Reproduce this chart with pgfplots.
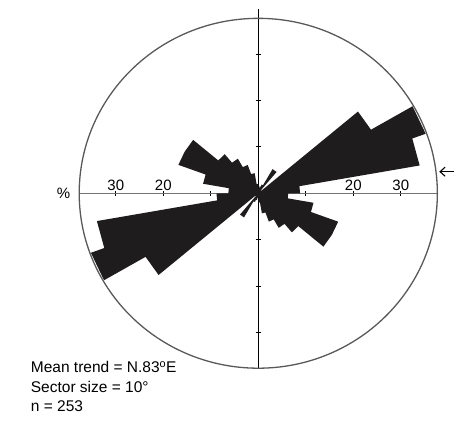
\documentclass[border=0pt]{standalone}
\usepackage{fontspec}
\setmainfont{Liberation Sans}
\usepackage{pgfplots}
\pgfplotsset{compat=1.18}
\usetikzlibrary{arrows.meta}
\definecolor{petal}{HTML}{1E1C1D}
\begin{document}
\begin{tikzpicture}[x=1pt,y=1pt]
\useasboundingbox (0,0) rectangle (456,421);
\begin{axis}[
  at={(79.2pt,52.8pt)}, anchor=south west,
  scale only axis, width=358.15pt, height=359.6pt,
  xmin=-37.7, xmax=37.7, ymin=-37.7, ymax=39.8,
  axis lines=middle, axis line style={-},
  x axis line style={draw=black!55, line width=1.3pt},
  y axis line style={draw=black, line width=1.2pt},
  clip=false,
  xtick={-30,-20,-10,10,20,30},
  xticklabels={30,20,,,20,30},
  ytick={-30,-20,-10,10,20,30},
  yticklabels={},
  tick align=center,
  major tick length=5.3pt,
  every tick/.style={black, line width=1pt},
  xticklabel style={anchor=south, font=\fontsize{15}{18}\selectfont, inner sep=0pt, yshift=5pt},
  /pgf/number format/assume math mode=true,
]
% rose petals: (math angle, percent); azimuth sectors of 10 degrees, axial data
\addplot[fill=petal, draw=none, data cs=polar] coordinates {
(90,0) (90,1) (80,1) (80,0)
(80,0) (80,1.5) (70,1.5) (70,0)
(70,0) (70,2) (60,2) (60,0)
(60,0) (60,6) (50,6) (50,0)
(50,0) (50,0.8) (40,0.8) (40,0)
(40,0) (40,27.4) (30,27.4) (30,0)
(30,0) (30,37.5) (20,37.5) (20,0)
(20,0) (20,34.5) (10,34.5) (10,0)
(10,0) (10,8.8) (0,8.8) (0,0)
(0,0) (0,6.3) (-10,6.3) (-10,0)
(-10,0) (-10,11.8) (-20,11.8) (-20,0)
(-20,0) (-20,17.9) (-30,17.9) (-30,0)
(-30,0) (-30,17.9) (-40,17.9) (-40,0)
(-40,0) (-40,11) (-50,11) (-50,0)
(-50,0) (-50,8.6) (-60,8.6) (-60,0)
(-60,0) (-60,6.5) (-70,6.5) (-70,0)
(-70,0) (-70,4.4) (-80,4.4) (-80,0)
(-80,0) (-80,2) (-90,2) (-90,0)
(-90,0) (-90,1) (-100,1) (-100,0)
(-100,0) (-100,1.5) (-110,1.5) (-110,0)
(-110,0) (-110,2) (-120,2) (-120,0)
(-120,0) (-120,6) (-130,6) (-130,0)
(-130,0) (-130,0.8) (-140,0.8) (-140,0)
(-140,0) (-140,27.4) (-150,27.4) (-150,0)
(-150,0) (-150,37.5) (-160,37.5) (-160,0)
(-160,0) (-160,34.5) (-170,34.5) (-170,0)
(-170,0) (-170,8.8) (-180,8.8) (-180,0)
(-180,0) (-180,6.3) (-190,6.3) (-190,0)
(-190,0) (-190,11.8) (-200,11.8) (-200,0)
(-200,0) (-200,17.9) (-210,17.9) (-210,0)
(-210,0) (-210,17.9) (-220,17.9) (-220,0)
(-220,0) (-220,11) (-230,11) (-230,0)
(-230,0) (-230,8.6) (-240,8.6) (-240,0)
(-240,0) (-240,6.5) (-250,6.5) (-250,0)
(-250,0) (-250,4.4) (-260,4.4) (-260,0)
(-260,0) (-260,2) (-270,2) (-270,0)
};
\draw[black!65, line width=1.3pt] (axis cs:0,0) ellipse [x radius=37.7, y radius=37.7];
\node[font=\fontsize{15}{18}\selectfont] at (axis cs:-40.97,0) {\%};
\draw[line width=1.1pt, -{Straight Barb[length=5pt,width=9pt]}] (axis cs:41.1,4.65) -- (axis cs:38.1,4.65);
\end{axis}
\node[anchor=base west, inner sep=0pt, font=\fontsize{15.5}{18}\selectfont] at (30.7,48.7) {Mean trend = N.83\textsuperscript{o}E};
\node[anchor=base west, inner sep=0pt, font=\fontsize{15.5}{18}\selectfont] at (30.7,28.7) {Sector size = 10°};
\node[anchor=base west, inner sep=0pt, font=\fontsize{15.5}{18}\selectfont] at (30.7,9.3) {n = 253};
\end{tikzpicture}
\end{document}
